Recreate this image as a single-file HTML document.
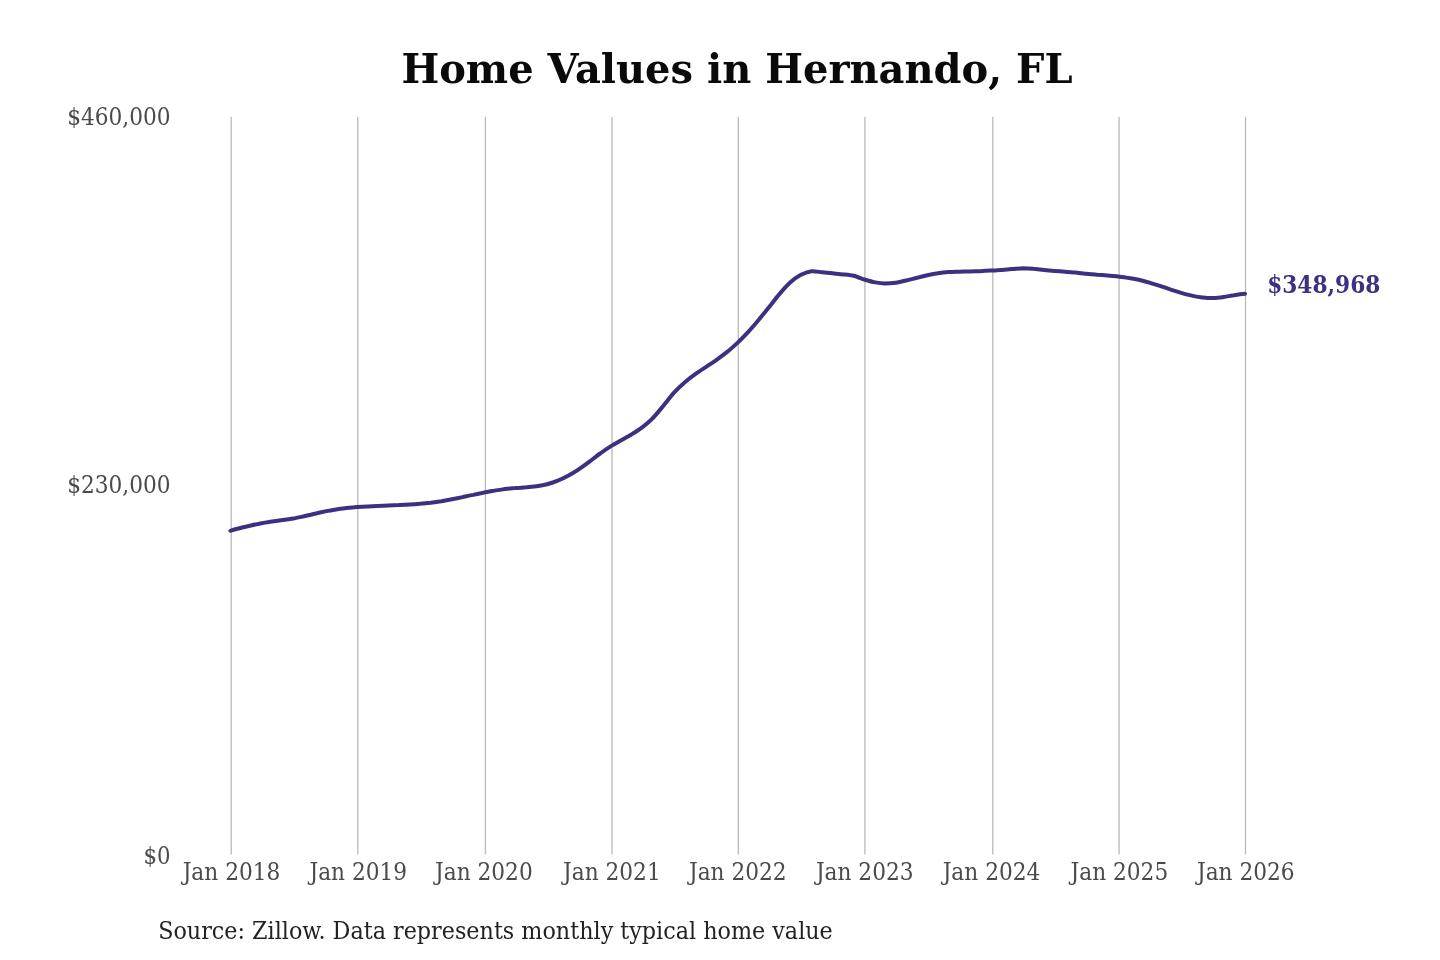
<!DOCTYPE html>
<html lang="en">
<head>
<meta charset="utf-8">
<title>Home Values in Hernando, FL</title>
<style>
html,body{margin:0;padding:0;background:#fff;}
body{width:1440px;height:960px;overflow:hidden;}
svg{display:block;font-family:"DejaVu Serif","Liberation Serif",serif;}
.title{font-size:41px;font-weight:bold;fill:#0a0a0a;text-anchor:middle;}
.grid line{stroke:#b9b9b9;stroke-width:1.3;}
.c{font-family:"DejaVu Serif Condensed","DejaVu Serif","Liberation Serif",serif;font-stretch:condensed;}
.yl text{font-size:23.6px;fill:#4a4a4a;text-anchor:end;}
.xl text{font-size:24.1px;fill:#4a4a4a;text-anchor:middle;}
.src{font-size:24.4px;fill:#222222;}
.val{font-size:24.1px;font-weight:bold;fill:#3a3180;}
.ln{fill:none;stroke:#3a3180;stroke-width:4.0;stroke-linecap:round;stroke-linejoin:round;}
</style>
</head>
<body>
<svg width="1440" height="960" viewBox="0 0 1440 960">
<rect width="1440" height="960" fill="#ffffff"/>
<text class="title" x="737" y="83.2" textLength="671.2" lengthAdjust="spacingAndGlyphs">Home Values in Hernando, FL</text>
<g class="grid">
<line x1="231.20" y1="116.9" x2="231.20" y2="854.5"/>
<line x1="357.80" y1="116.9" x2="357.80" y2="854.5"/>
<line x1="485.40" y1="116.9" x2="485.40" y2="854.5"/>
<line x1="612.00" y1="116.9" x2="612.00" y2="854.5"/>
<line x1="738.30" y1="116.9" x2="738.30" y2="854.5"/>
<line x1="864.90" y1="116.9" x2="864.90" y2="854.5"/>
<line x1="992.80" y1="116.9" x2="992.80" y2="854.5"/>
<line x1="1119.10" y1="116.9" x2="1119.10" y2="854.5"/>
<line x1="1245.50" y1="116.9" x2="1245.50" y2="854.5"/>
</g>
<g class="yl c">
<text x="170.6" y="124.8" textLength="103.4" lengthAdjust="spacingAndGlyphs">$460,000</text>
<text x="170.6" y="492.7" textLength="103.4" lengthAdjust="spacingAndGlyphs">$230,000</text>
<text x="170.6" y="864">$0</text>
</g>
<g class="xl c">
<text x="231.50" y="879.5">Jan 2018</text>
<text x="358.30" y="879.5">Jan 2019</text>
<text x="483.90" y="879.5">Jan 2020</text>
<text x="611.90" y="879.5">Jan 2021</text>
<text x="737.80" y="879.5">Jan 2022</text>
<text x="864.70" y="879.5">Jan 2023</text>
<text x="991.50" y="879.5">Jan 2024</text>
<text x="1119.40" y="879.5">Jan 2025</text>
<text x="1245.80" y="879.5">Jan 2026</text>
</g>
<path class="ln" d="M230.4 530.8 C231.8 530.4 238.4 528.5 241.2 527.8 C243.9 527.1 248.2 526.1 250.9 525.5 C253.6 524.9 258.8 523.8 261.6 523.3 C264.5 522.8 269.2 522.0 272.1 521.6 C274.9 521.2 280.0 520.5 282.8 520.1 C285.7 519.7 290.4 519.0 293.2 518.5 C296.1 518.0 301.1 516.9 304.0 516.3 C306.9 515.6 312.0 514.3 314.8 513.7 C317.6 513.1 322.4 512.0 325.2 511.4 C328.0 510.9 333.1 509.9 336.0 509.5 C338.8 509.1 343.5 508.4 346.4 508.1 C349.2 507.8 354.3 507.3 357.1 507.1 C360.0 506.9 365.2 506.6 367.9 506.4 C370.6 506.2 374.9 506.0 377.6 505.9 C380.4 505.8 385.6 505.6 388.4 505.5 C391.2 505.4 396.0 505.2 398.8 505.1 C401.6 504.9 406.7 504.7 409.6 504.5 C412.4 504.3 417.2 504.0 420.0 503.8 C422.8 503.5 427.9 503.0 430.8 502.7 C433.6 502.3 438.7 501.6 441.5 501.2 C444.3 500.7 449.1 499.8 451.9 499.3 C454.8 498.7 459.9 497.7 462.7 497.1 C465.5 496.5 470.3 495.4 473.1 494.9 C475.9 494.3 481.0 493.2 483.9 492.6 C486.8 492.0 491.9 491.1 494.6 490.6 C497.4 490.1 501.9 489.5 504.7 489.1 C507.5 488.8 512.6 488.3 515.5 488.1 C518.3 487.8 523.1 487.5 525.9 487.3 C528.7 487.0 533.8 486.6 536.7 486.2 C539.5 485.8 544.2 485.0 547.1 484.2 C549.9 483.5 555.0 481.9 557.8 480.7 C560.7 479.6 565.8 477.1 568.6 475.6 C571.4 474.0 576.2 471.1 579.0 469.1 C581.8 467.2 587.0 463.4 589.8 461.3 C592.6 459.2 597.4 455.5 600.2 453.5 C603.0 451.4 608.1 447.9 611.0 446.1 C613.8 444.3 619.0 441.4 621.7 439.9 C624.5 438.3 628.7 436.0 631.5 434.4 C634.2 432.7 639.4 429.4 642.2 427.3 C645.0 425.2 649.8 421.2 652.6 418.3 C655.5 415.5 660.6 409.1 663.4 405.7 C666.2 402.3 671.0 396.0 673.8 392.9 C676.6 389.8 681.7 384.9 684.6 382.4 C687.4 379.9 692.5 376.1 695.3 374.1 C698.2 372.0 702.9 369.0 705.8 367.1 C708.6 365.2 713.7 361.8 716.5 359.8 C719.3 357.8 724.1 354.3 726.9 352.1 C729.8 349.8 734.8 345.3 737.7 342.6 C740.6 339.9 745.7 334.6 748.5 331.6 C751.2 328.7 755.5 323.7 758.2 320.5 C760.9 317.2 766.1 310.7 769.0 307.2 C771.8 303.7 776.5 297.4 779.4 294.1 C782.2 290.9 787.3 285.1 790.1 282.6 C793.0 280.0 797.7 276.6 800.5 275.1 C803.4 273.5 808.4 271.6 811.3 271.2 C814.2 270.8 819.3 272.0 822.1 272.3 C824.9 272.6 829.7 273.0 832.5 273.3 C835.3 273.6 840.4 274.0 843.3 274.4 C846.1 274.7 850.8 275.1 853.7 275.8 C856.5 276.5 861.6 278.6 864.4 279.5 C867.3 280.4 872.5 281.9 875.2 282.4 C877.9 282.9 882.2 283.5 884.9 283.6 C887.7 283.6 892.9 283.2 895.7 282.8 C898.5 282.4 903.3 281.2 906.1 280.5 C908.9 279.9 914.0 278.5 916.9 277.8 C919.7 277.0 924.5 275.8 927.3 275.2 C930.1 274.6 935.2 273.6 938.0 273.2 C940.9 272.8 946.0 272.3 948.8 272.1 C951.6 271.9 956.4 271.8 959.2 271.7 C962.1 271.6 967.2 271.6 970.0 271.5 C972.8 271.4 977.6 271.3 980.4 271.2 C983.2 271.1 988.3 270.8 991.2 270.6 C994.1 270.5 999.2 270.1 1001.9 269.9 C1004.7 269.7 1009.2 269.3 1012.0 269.1 C1014.8 268.9 1019.9 268.3 1022.8 268.2 C1025.6 268.2 1030.4 268.5 1033.2 268.8 C1036.0 269.0 1041.1 269.8 1044.0 270.1 C1046.8 270.4 1051.5 270.8 1054.4 271.0 C1057.2 271.2 1062.3 271.5 1065.1 271.7 C1068.0 271.9 1073.1 272.4 1075.9 272.6 C1078.7 272.9 1083.5 273.5 1086.3 273.7 C1089.1 274.0 1094.3 274.4 1097.1 274.7 C1099.9 274.9 1104.7 275.3 1107.5 275.5 C1110.3 275.8 1115.4 276.2 1118.3 276.5 C1121.1 276.9 1126.3 277.5 1129.0 278.0 C1131.8 278.4 1136.0 279.2 1138.8 279.8 C1141.5 280.4 1146.7 281.8 1149.5 282.6 C1152.3 283.4 1157.1 285.0 1159.9 285.9 C1162.8 286.9 1167.9 288.6 1170.7 289.6 C1173.5 290.5 1178.3 292.0 1181.1 292.8 C1183.9 293.6 1189.0 295.0 1191.9 295.6 C1194.7 296.2 1199.8 297.2 1202.6 297.5 C1205.5 297.8 1210.2 298.2 1213.1 298.1 C1215.9 298.1 1221.0 297.5 1223.8 297.1 C1226.6 296.7 1231.4 295.6 1234.2 295.2 C1237.1 294.7 1243.6 293.9 1245.0 293.8"/>
<text class="val c" x="1267.2" y="292.9" textLength="113.2" lengthAdjust="spacingAndGlyphs">$348,968</text>
<text class="src c" x="158.2" y="938.8" textLength="674.6" lengthAdjust="spacingAndGlyphs">Source: Zillow. Data represents monthly typical home value</text>
</svg>
</body>
</html>
